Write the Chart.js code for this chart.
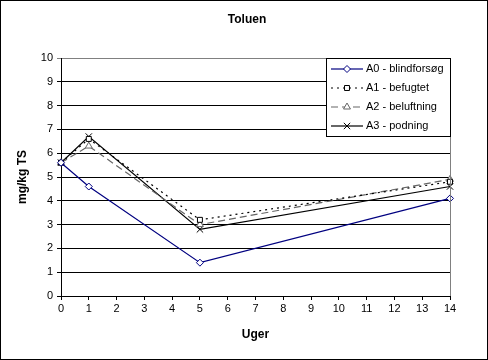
<!DOCTYPE html>
<html lang="da">
<head>
  <meta charset="UTF-8">
  <title>Toluen</title>
  <script src="https://cdn.jsdelivr.net/npm/chart.js"></script>
  <style>
    body { margin: 0; background: #fff; }
    #wrap { width: 488px; height: 360px; }
  </style>
</head>
<body>
  <div id="wrap"><canvas id="chart" width="488" height="360"></canvas></div>
  <script>
    const weeks = [0, 1, 5, 14];
    const a0 = [5.6, 4.6, 1.4, 4.1];
    const a1 = [5.6, 6.6, 3.2, 4.8];
    const a2 = [5.6, 6.3, 3.0, 4.9];
    const a3 = [5.6, 6.7, 2.8, 4.6];
    const seriesNames = ['A0 - blindforsøg', 'A1 - befugtet', 'A2 - beluftning', 'A3 - podning'];

    const font = 'Liberation Sans, Arial, sans-serif';
    const pts = vals => vals.map((v, i) => ({ x: weeks[i], y: v }));

    const styles = [
      { color: '#000080', dash: [], point: 'rectRot', r: 3.5 },
      { color: '#000000', dash: [2, 4], point: 'rect', r: 3.5 },
      { color: '#666666', dash: [7, 4], point: 'triangle', r: 4 },
      { color: '#000000', dash: [], point: 'crossRot', r: 4.5 }
    ];
    const allSeries = [a0, a1, a2, a3];

    const datasets = allSeries.map((vals, k) => ({
      label: seriesNames[k],
      data: pts(vals),
      showLine: true,
      clip: false,
      borderColor: styles[k].color,
      borderWidth: 1.2,
      borderDash: styles[k].dash,
      pointStyle: styles[k].point,
      pointRadius: styles[k].r,
      pointBorderColor: styles[k].color,
      pointBackgroundColor: '#ffffff',
      pointBorderWidth: 1,
      tension: 0
    }));

    // legend, title and borders drawn by hand to match the layout
    const decor = {
      id: 'decor',
      afterDraw(chart) {
        const ctx = chart.ctx;
        const a = chart.chartArea;
        ctx.save();
        ctx.strokeStyle = '#808080';
        ctx.lineWidth = 1;
        ctx.beginPath();
        ctx.moveTo(Math.round(a.right) + 0.5, Math.round(a.top) + 0.5);
        ctx.lineTo(Math.round(a.right) + 0.5, Math.round(a.bottom));
        ctx.stroke();

        ctx.strokeStyle = '#000';
        ctx.strokeRect(0.5, 0.5, chart.width - 1, chart.height - 1);

        ctx.fillStyle = '#000';
        ctx.font = 'bold 12px ' + font;
        ctx.textAlign = 'center';
        ctx.textBaseline = 'middle';
        ctx.fillText('Toluen', 247, 20);

        // legend box
        const lx = 326, ly = 58, lw = 124, lh = 78;
        ctx.fillStyle = '#fff';
        ctx.fillRect(lx, ly, lw, lh);
        ctx.strokeStyle = '#000';
        ctx.strokeRect(lx + 0.5, ly + 0.5, lw, lh);
        chart.data.datasets.forEach((ds, k) => {
          const y = ly + 11 + k * 19;
          ctx.strokeStyle = ds.borderColor;
          ctx.lineWidth = 1.2;
          ctx.setLineDash(ds.borderDash);
          ctx.beginPath();
          ctx.moveTo(lx + 5, y);
          ctx.lineTo(lx + 37, y);
          ctx.stroke();
          ctx.setLineDash([]);
          ctx.lineWidth = 1;
          ctx.fillStyle = '#fff';
          ctx.strokeStyle = ds.borderColor;
          Chart.helpers.drawPoint(ctx, {
            pointStyle: ds.pointStyle, radius: ds.pointRadius, borderWidth: 1, rotation: 0
          }, lx + 21, y);
          ctx.fillStyle = '#000';
          ctx.font = '11px ' + font;
          ctx.textAlign = 'left';
          ctx.fillText(ds.label, lx + 40, y);
        });
        ctx.restore();
      }
    };

    new Chart(document.getElementById('chart'), {
      type: 'scatter',
      data: { datasets: datasets },
      options: {
        responsive: false,
        animation: false,
        layout: { padding: { top: 58, right: 38, left: 15, bottom: 0 } },
        plugins: { legend: { display: false }, tooltip: { enabled: false } },
        scales: {
          x: {
            type: 'linear',
            min: 0, max: 14,
            afterFit: s => { s.height = 64; },
            ticks: { stepSize: 1, color: '#000', font: { family: font, size: 11 }, padding: 2 },
            grid: { drawOnChartArea: false, drawTicks: true, tickLength: 4, color: '#000' },
            border: { color: '#000' },
            title: { display: true, text: 'Uger', color: '#000', font: { family: font, size: 12, weight: 'bold' }, padding: { top: 0, bottom: 18 } }
          },
          y: {
            min: 0, max: 10,
            afterFit: s => { s.width = 46; },
            ticks: { stepSize: 1, color: '#000', font: { family: font, size: 11 }, padding: 4 },
            grid: {
              color: c => c.tick && c.tick.value === 10 ? '#808080' : '#000',
              tickLength: 4
            },
            border: { color: '#000' },
            title: { display: true, text: 'mg/kg TS', color: '#000', font: { family: font, size: 12, weight: 'bold' }, padding: 0 }
          }
        }
      },
      plugins: [decor]
    });
  </script>
</body>
</html>
